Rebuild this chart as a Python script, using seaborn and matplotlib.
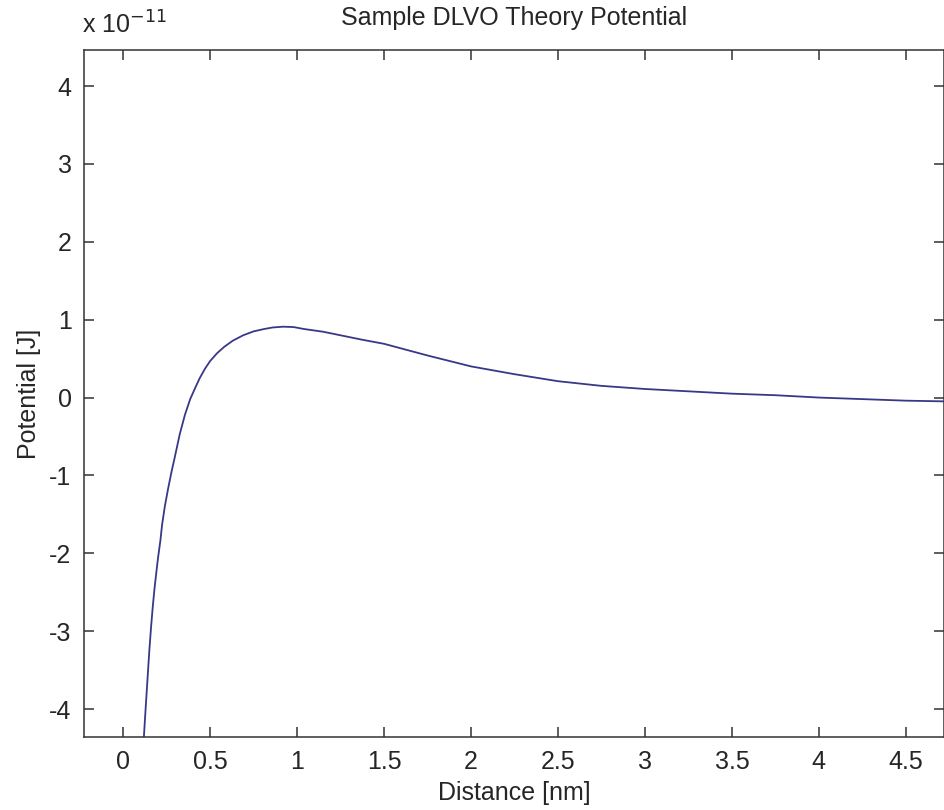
import numpy as np
import pandas as pd
import matplotlib
matplotlib.use('Agg')
import matplotlib.pyplot as plt
import seaborn as sns

# distance in nm, potential in units of 1e-11 J
distance_nm = [0.11, 0.12, 0.13, 0.14, 0.15, 0.16, 0.17, 0.18, 0.19, 0.2,
               0.214, 0.223, 0.239, 0.258, 0.277, 0.296, 0.325, 0.355, 0.385, 0.415,
               0.44, 0.47, 0.5, 0.54, 0.58, 0.63, 0.69, 0.75, 0.81, 0.86,
               0.92, 0.98, 1.04, 1.15, 1.27, 1.38, 1.5, 1.75, 2.0, 2.25,
               2.5, 2.75, 3.0, 3.25, 3.5, 3.75, 4.0, 4.25, 4.5, 4.75]
potential_e11 = [-4.75, -4.31, -3.95, -3.6, -3.25, -2.95, -2.68, -2.45, -2.25, -2.06,
                 -1.83, -1.64, -1.40, -1.17, -0.96, -0.77, -0.47, -0.22, -0.02, 0.13,
                 0.25, 0.37, 0.47, 0.57, 0.65, 0.73, 0.80, 0.85, 0.88, 0.90,
                 0.91, 0.905, 0.88, 0.845, 0.79, 0.74, 0.69, 0.54, 0.40, 0.30,
                 0.21, 0.15, 0.11, 0.08, 0.05, 0.03, 0.0, -0.02, -0.04, -0.05]
xticks = [0, 0.5, 1, 1.5, 2, 2.5, 3, 3.5, 4, 4.5]
yticks = [-4, -3, -2, -1, 0, 1, 2, 3, 4]


def main():
    sns.set_style('ticks')
    plt.rcParams['font.family'] = ['Liberation Sans', 'DejaVu Sans']
    txt = '#262626'
    fs = 18

    df = pd.DataFrame({'distance': distance_nm, 'potential': potential_e11})

    fig = plt.figure(figsize=(9.45, 8.1), dpi=100)
    ax = fig.add_axes([0.089, 0.090, 0.910, 0.848])
    sns.lineplot(data=df, x='distance', y='potential', ax=ax, color='#383888',
                 linewidth=1.3, estimator=None, sort=False)

    ax.set_xlim(-0.225, 4.72)
    ax.set_ylim(-4.36, 4.46)
    ax.set_xticks(xticks)
    ax.set_xticklabels([f'{t:g}' for t in xticks])
    ax.set_yticks(yticks)
    ax.set_yticklabels([f'{t:d}' for t in yticks])
    ax.tick_params(direction='in', length=7, width=1.1, top=True, right=True,
                   labelsize=fs, colors='#333333', labelcolor=txt, pad=9)
    for s in ax.spines.values():
        s.set_visible(True)
        s.set_color('#333333')
        s.set_linewidth(1.1)

    ax.set_xlabel('Distance [nm]', fontsize=fs, color=txt, labelpad=5)
    ax.set_ylabel('Potential [J]', fontsize=fs, color=txt, labelpad=6)
    ax.set_title('Sample DLVO Theory Potential', fontsize=fs, color=txt, pad=18)
    fig.text(0.087, 0.958, r'x 10$^{-11}$', fontsize=fs, color=txt, ha='left')

    fig.savefig('out.png', dpi=100, facecolor='white')
    plt.close(fig)


if __name__ == '__main__':
    main()
